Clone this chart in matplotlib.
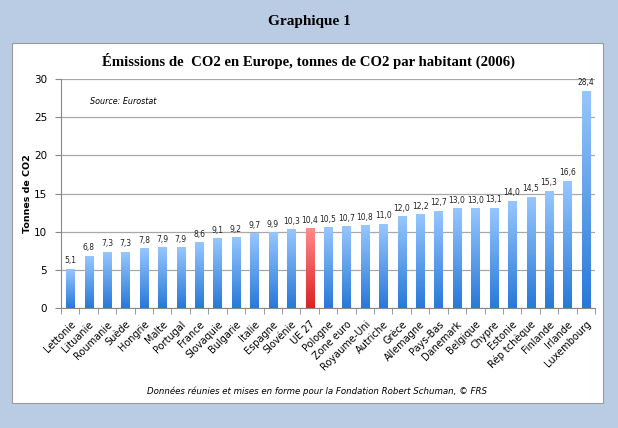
import matplotlib.pyplot as plt
import matplotlib.patches as patches
import numpy as np
from matplotlib.colors import LinearSegmentedColormap

pays = ['Lettonie', 'Lituanie', 'Roumanie', 'Suède', 'Hongrie', 'Malte', 'Portugal',
        'France', 'Slovaquie', 'Bulgarie', 'Italie', 'Espagne', 'Slovénie', 'UE 27',
        'Pologne', 'Zone euro', 'Royaume-Uni', 'Autriche', 'Grèce', 'Allemagne',
        'Pays-Bas', 'Danemark', 'Belgique', 'Chypre', 'Estonie', 'Rép tchèque',
        'Finlande', 'Irlande', 'Luxembourg']
tonnes = [5.1, 6.8, 7.3, 7.3, 7.8, 7.9, 7.9, 8.6, 9.1, 9.2, 9.7, 9.9, 10.3, 10.4,
          10.5, 10.7, 10.8, 11.0, 12.0, 12.2, 12.7, 13.0, 13.0, 13.1, 14.0, 14.5,
          15.3, 16.6, 28.4]
surligne = 'UE 27'

W, H = 618, 428
fig = plt.figure(figsize=(W / 100, H / 100), dpi=100)
fig.patch.set_facecolor('#b9cce4')

# panneau blanc
panel = patches.Rectangle((12 / W, 1 - 403 / H), 591 / W, 360 / H,
                          transform=fig.transFigure, facecolor='white',
                          edgecolor='#9a9a9a', linewidth=0.8, zorder=-5)
fig.patches.append(panel)

fig.text(309 / W, 1 - 21 / H, 'Graphique 1', family='Liberation Serif',
         fontsize=11, fontweight='bold', ha='center', va='center')

ax = fig.add_axes([61 / W, 1 - 308 / H, 534 / W, 229 / H])
ax.set_facecolor('none')

bleu = LinearSegmentedColormap.from_list('bleu', ['#2879d8', '#96c6ff'])
rouge = LinearSegmentedColormap.from_list('rouge', ['#dd2222', '#ff8a8a'])
grad = np.linspace(0, 1, 100).reshape(-1, 1)

x = np.arange(len(pays))
larg = 0.44
for i, (p, v) in enumerate(zip(pays, tonnes)):
    cmap = rouge if p == surligne else bleu
    ax.imshow(grad, cmap=cmap, origin='lower', aspect='auto',
              extent=[i - larg / 2, i + larg / 2, 0, v], zorder=3)
    ax.text(i, v + 0.5, ('%.1f' % v).replace('.', ','), ha='center', va='bottom',
            fontsize=5.5, color='#222222', zorder=4)

ax.set_xlim(-0.5, len(pays) - 0.5)
ax.set_ylim(0, 30)
ax.set_yticks(range(0, 31, 5))
ax.yaxis.grid(True, color='#a8a8a8', linewidth=0.9)
ax.set_axisbelow(True)

ax.set_xticks(x)
ax.set_xticklabels(pays, rotation=45, ha='right', rotation_mode='anchor', fontsize=7)
ax.set_xticks(np.arange(-0.5, len(pays), 1), minor=True)
ax.tick_params(axis='x', which='major', length=0, pad=8)
ax.tick_params(axis='x', which='minor', length=4, color='#888888')
ax.tick_params(axis='y', length=4, color='#888888', labelsize=7.5, pad=6)

for s in ['top', 'right']:
    ax.spines[s].set_visible(False)
ax.spines['left'].set_color('#888888')
ax.spines['bottom'].set_color('#888888')

ax.set_ylabel('Tonnes de CO2', fontsize=6.8, fontweight='bold', labelpad=1)

fig.text(309 / W, 1 - 61 / H,
         'Émissions de  CO2 en Europe, tonnes de CO2 par habitant (2006)',
         family='Liberation Serif', fontsize=10.6, fontweight='bold',
         ha='center', va='center')
fig.text(90 / W, 1 - 101 / H, 'Source: Eurostat', fontsize=5.8, style='italic',
         ha='left', va='center')
fig.text(317 / W, 1 - 391 / H,
         'Données réunies et mises en forme pour la Fondation Robert Schuman, © FRS',
         fontsize=6.2, style='italic', ha='center', va='center')

fig.savefig('out.png', dpi=100, facecolor=fig.get_facecolor())
